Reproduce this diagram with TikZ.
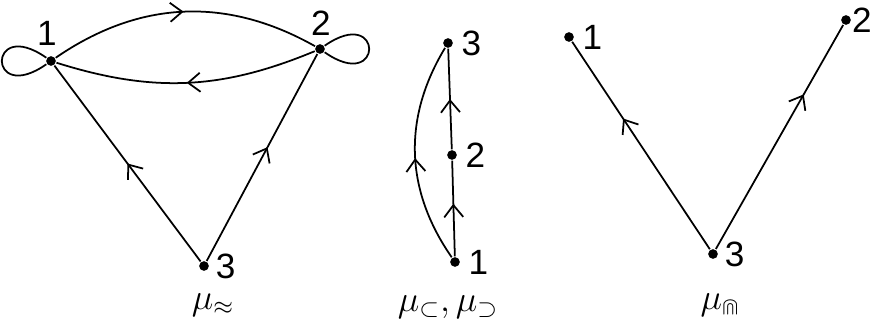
\documentclass[tikz,border=0pt]{standalone}
\usepackage{amsmath, amssymb}
\usepackage{fontspec}
\setsansfont{Liberation Sans}
\usetikzlibrary{positioning, arrows.meta, decorations.markings}

\tikzset{
    vertex/.style={circle, fill, inner sep=0pt, minimum size=5.5pt},
    num/.style={font=\sffamily\fontsize{20}{20}\selectfont, inner sep=1pt},
    caption/.style={font=\fontsize{20}{20}\selectfont},
    flow/.style={decoration={markings, mark=at position #1 with {\arrow{Straight Barb[length=2.4mm, width=3.8mm, line width=1pt]}}}, postaction={decorate}},
    flow/.default=0.5
}

\begin{document}
\begin{tikzpicture}[x=0.02cm, y=-0.02cm, line width=1pt]
    \useasboundingbox (0,0) rectangle (875,326);

    % Left graph
    \node[vertex] (a1) at (51,61) {};
    \node[vertex] (a2) at (320,49) {};
    \node[vertex] (a3) at (204,266) {};
    \node[num] (la1) at (47,33) {1};
    \node[num] (la2) at (321,23) {2};
    \node[num, right=2pt of a3] (la3) {3};
    \node[caption] (ca) at (213,305) {$\mu_{\approx}$};

    \draw[flow] (a1) to[bend left=32] (a2);
    \draw[flow] (a2) to[bend left=20] (a1);
    \draw (a1) to[out=145, in=215, distance=1.45cm] (a1);
    \draw (a2) to[out=35, in=-35, distance=1.45cm] (a2);
    \draw[flow] (a3) -- (a1);
    \draw[flow=0.55] (a3) -- (a2);

    % Middle graph
    \node[vertex] (b1) at (455,262) {};
    \node[vertex] (b2) at (452,155) {};
    \node[vertex] (b3) at (448,43) {};
    \node[num, right=3pt of b1] (lb1) {1};
    \node[num, right=3pt of b2] (lb2) {2};
    \node[num, right=3pt of b3] (lb3) {3};
    \node[caption] (cb) at (448,307) {$\mu_{\subset}, \mu_{\supset}$};

    \draw[flow=0.55] (b1) -- (b2);
    \draw[flow] (b2) -- (b3);
    \draw[flow=0.48] (b1) to[bend right=-33] (b3);

    % Right graph
    \node[vertex] (c1) at (569,37) {};
    \node[vertex] (c2) at (846,20) {};
    \node[vertex] (c3) at (713,254) {};
    \node[num, right=3pt of c1] (lc1) {1};
    \node[num] (lc2) at (862,20) {2};
    \node[num, right=2pt of c3] (lc3) {3};
    \node[caption] (cc) at (720,305) {$\mu_{\Cap}$};

    \draw[flow=0.63] (c3) -- (c1);
    \draw[flow=0.69] (c3) -- (c2);
\end{tikzpicture}
\end{document}
